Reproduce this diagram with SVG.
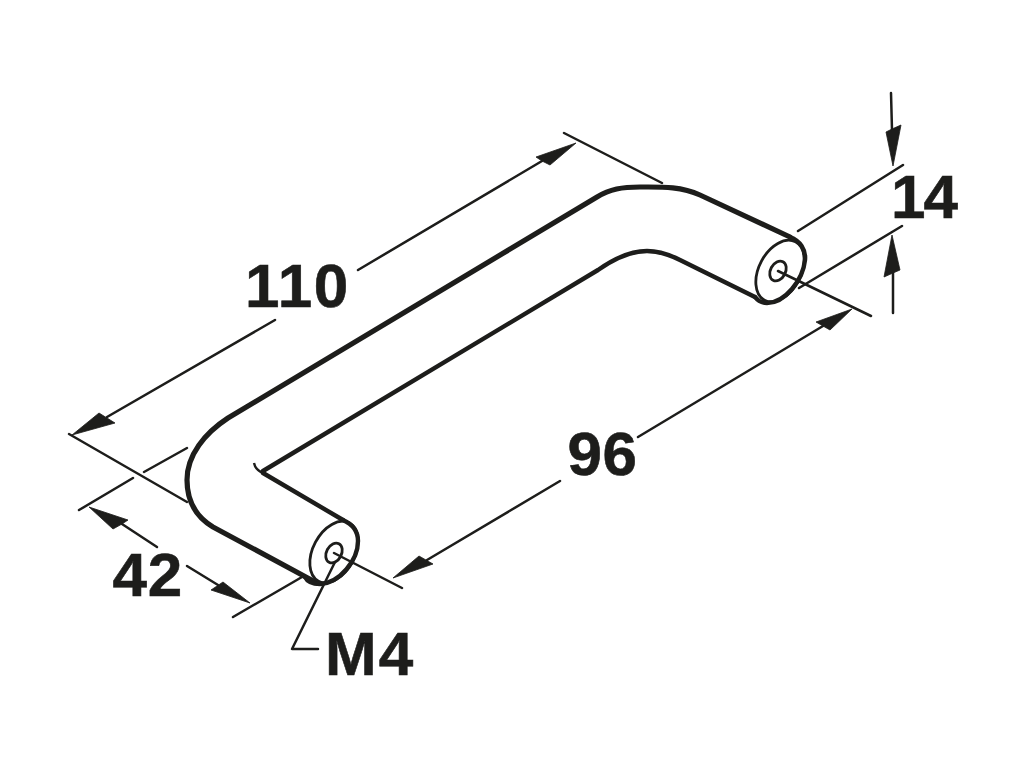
<svg xmlns="http://www.w3.org/2000/svg" width="1024" height="768" viewBox="0 0 1024 768">
<style>
.h{fill:none;stroke:#1d1d1b;stroke-width:5.2;stroke-linecap:round;stroke-linejoin:round}
.c{fill:none;stroke:#1d1d1b;stroke-width:4.4;stroke-linecap:round;stroke-linejoin:round}
.e{fill:none;stroke:#1d1d1b;stroke-width:2.8}
.d{fill:none;stroke:#1d1d1b;stroke-width:2.5;stroke-linecap:round;stroke-linejoin:round}
.a{fill:#1d1d1b;stroke:#1d1d1b;stroke-width:.8;stroke-linejoin:miter}
.t{font-family:"Liberation Sans",Arial,sans-serif;font-weight:700;font-size:62px;fill:#1d1d1b;stroke:#1d1d1b;stroke-width:.6}
</style>
<rect width="1024" height="768" fill="#fff"/>
<g id="handle">
<path class="h" d="M317 583 L213 527 C198 518 187 503 187 480 C187 455 205 433 228 418 L597 197 C610 189 622 187 640 187 C660 187 680 186 700 195 L790 237"/>
<path class="c" d="M263 471 L598 270 C615 258 630 251 647 251 C660 251 670 255 680 260 L755 297"/>
<path class="c" d="M263 473 L343 520"/>
<path d="M254 463 C255 468 258 471 263 473" fill="none" stroke="#1d1d1b" stroke-width="2.4"/>
</g>
<g id="end-left">
<ellipse class="e" cx="334" cy="552" rx="33" ry="21" transform="rotate(-62 334 552)"/>
<path class="c" d="M343 520 C352 524 358 531 358 541 C358 560 340 583 320 584 C312 584 307 581 305 577"/>
<ellipse class="e" cx="334" cy="553" rx="10.5" ry="7.5" transform="rotate(-62 334 553)"/>
</g>
<g id="end-right">
<ellipse class="e" cx="780" cy="271" rx="33" ry="21" transform="rotate(-62 780 271)"/>
<path class="c" d="M790 237 C800 241 806 249 805 260 C803 280 785 303 767 303 C762 303 758 301 755 297"/>
<ellipse class="e" cx="778" cy="271" rx="10.5" ry="7.5" transform="rotate(-62 778 271)"/>
</g>
<g id="connectors">
<path class="d" d="M69 434 L187 502M564 133 L662 183"/>
<path class="d" d="M107 417 L275 320M358 270 L542 161"/>
<path class="d" d="M187 448 L144 472M133 478 L79 510M302 577 L233 617"/>
<path class="d" d="M122 524 L157 547M187 566 L218 585"/>
<path class="d" d="M334 553 L402 588M778 271 L871 316"/>
<path class="d" d="M427 560 L560 481M638 437 L823 326"/>
<path class="d" d="M798 231 L903 165M799 288 L902 226"/>
<path class="d" d="M891 93 L892 130M893 272 L893 313"/>
<path class="d" d="M335 562 L292 649 L318 649"/>
<path class="a" d="M576 143 L536 157 L542 161 L550 165 Z"/>
<path class="a" d="M72 435 L115 423 L107 418 L99 413 Z"/>
<path class="a" d="M89 507 L128 520 L122 524 L113 529 Z"/>
<path class="a" d="M250 603 L223 582 L217 586 L211 590 Z"/>
<path class="a" d="M393 578 L433 564 L426 560 L419 556 Z"/>
<path class="a" d="M852 309 L816 322 L823 326 L830 330 Z"/>
<path class="a" d="M893 166 L886 132 L892 129 L901 125 Z"/>
<path class="a" d="M892 235 L884 277 L893 273 L900 270 Z"/>
</g>
<g id="labels">
<text class="t" x="245" y="307" letter-spacing="1.6">110</text>
<text class="t" x="567.5" y="474.5" letter-spacing=".6">96</text>
<text class="t" x="112.5" y="596" letter-spacing=".8">42</text>
<text class="t" x="891" y="218" letter-spacing="-2">14</text>
<text class="t" x="325" y="675" letter-spacing="2">M4</text>
</g>
</svg>
